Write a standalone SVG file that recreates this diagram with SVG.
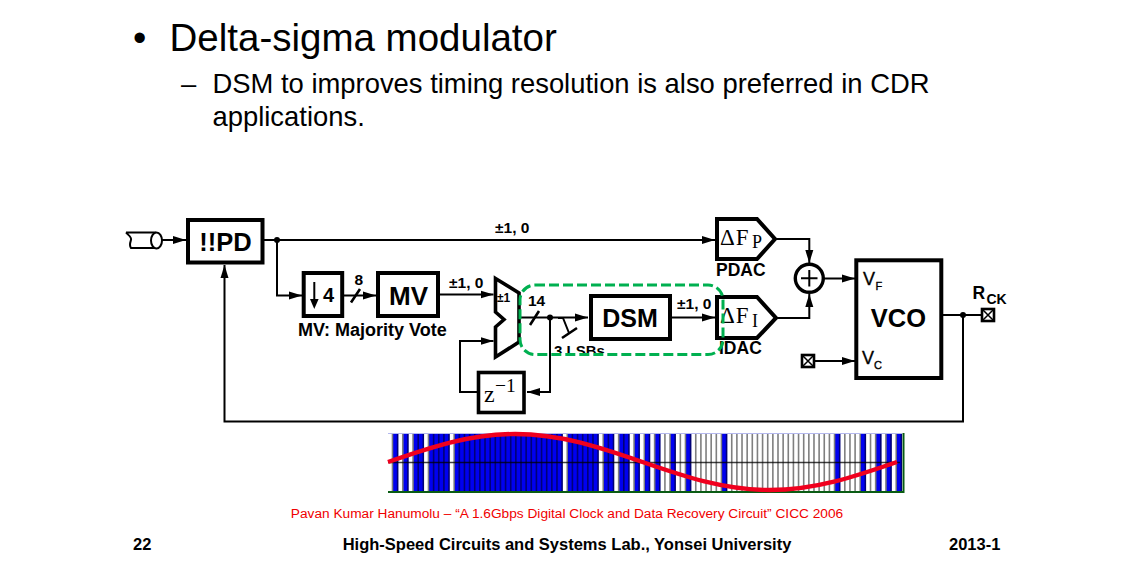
<svg xmlns="http://www.w3.org/2000/svg" width="1130" height="578" viewBox="0 0 1130 578">
<style>
text{font-family:"Liberation Sans",Arial,sans-serif;fill:#000}
.b{font-weight:700}
.serif{font-family:"Liberation Serif","Times New Roman",serif}
.w{fill:none;stroke:#000;stroke-width:2}
.box{fill:#fff;stroke:#000;stroke-width:4}
.lbl{font-weight:700;font-size:15.500px}
.blk{font-weight:700;text-anchor:middle}
.med{stroke:#000;stroke-width:.35}
</style>
<defs>
<marker id="arr" markerUnits="userSpaceOnUse" markerWidth="14" markerHeight="10" refX="13" refY="5" orient="auto"><path d="M0 1 L13 5 L0 9Z" fill="#000"/></marker>
<g id="cross"><rect x="0" y="0" width="12" height="12" fill="#fff" stroke="#000" stroke-width="2.600"/><path d="M1 1L11 11M11 1L1 11" stroke="#000" stroke-width="1.500"/></g>
<clipPath id="lsb-clip"><rect x="550" y="338" width="62" height="15"/></clipPath>
</defs>
<rect width="1130" height="578" fill="#fff"/>
<text x="133" y="51" font-size="38">•</text>
<text x="169.500" y="51" font-size="38.500">Delta-sigma modulator</text>
<text x="181" y="93" font-size="27.400">–</text>
<text x="212.500" y="93" font-size="27.400">DSM to improves timing resolution is also preferred in CDR</text>
<text x="212.500" y="126" font-size="27.400">applications.</text>

<g id="connectors">
<path class="w" d="M161 240H186" marker-end="url(#arr)"/>
<path class="w" d="M264 240H715" marker-end="url(#arr)"/>
<path class="w" d="M277 240V295.500H302" marker-end="url(#arr)"/>
<path class="w" d="M343 295.500H376" marker-end="url(#arr)"/>
<path class="w" d="M439 294.500H493.500" marker-end="url(#arr)"/>
<path class="w" d="M518 317.500H588" marker-end="url(#arr)"/>
<path class="w" d="M550 317.500V392H527" marker-end="url(#arr)"/>
<path class="w" d="M477 392H460V341H493.500" marker-end="url(#arr)"/>
<path class="w" d="M558 318H563L569 333"/>
<path class="w" d="M671 317.500H715" marker-end="url(#arr)"/>
<path class="w" d="M775 239H809.300V263" marker-end="url(#arr)"/>
<path class="w" d="M776 318H809.300V294" marker-end="url(#arr)"/>
<path class="w" d="M824 278.500H855" marker-end="url(#arr)"/>
<path class="w" d="M815 361H855" marker-end="url(#arr)"/>
<path class="w" d="M942 315H982"/>
<path class="w" d="M963 315V421.500H224.500V265" marker-end="url(#arr)"/>
<circle cx="277" cy="240" r="3"/><circle cx="550" cy="317.500" r="3"/><circle cx="963" cy="315" r="3"/>
<path d="M351 302.500L360 289M530 325L539 311M562 338L577 328" stroke="#000" stroke-width="2.600" fill="none"/>
</g>

<g id="source"><path class="w" d="M126 232.500H156M126 232.500C128 235 132 237 131 240C130 243 129 245 131 248H156"/><ellipse cx="156.500" cy="240.500" rx="5.500" ry="8" fill="#fff" stroke="#000" stroke-width="2"/></g>
<g id="pd"><rect class="box" x="188" y="220" width="74.500" height="42.500"/><text class="blk" x="225.500" y="250.500" font-size="25.500">!!PD</text></g>
<g id="div4"><rect class="box" x="303.700" y="273" width="38.500" height="43"/><path class="w" d="M314.300 282V303"/><path d="M310 299L314.300 309L318.600 299Z"/><text x="323" y="302" class="b" font-size="20">4</text></g>
<g id="mv"><rect class="box" x="378" y="273" width="60" height="43"/><text class="blk" x="408.500" y="305" font-size="26">MV</text></g>
<g id="mux"><path d="M495.500 278.500L519 293V342L495.500 357V327L504 319.500L495.500 312Z" fill="#fff" stroke="#000" stroke-width="3.600"/><text x="497" y="302" class="b" font-size="12">±1</text></g>
<g id="dsm"><rect class="box" x="591" y="296" width="79" height="43"/><text class="blk" x="630" y="327" font-size="25">DSM</text></g>
<g id="delay"><rect class="box" x="478.500" y="372.500" width="45.500" height="40" style="stroke-width:3.600"/><text x="484" y="402" class="serif" font-size="24">z</text><text x="495" y="392" class="serif" font-size="19.500">−1</text></g>
<g id="pdac"><path class="box" d="M717 219H757L775 239L757 259H717Z"/><text x="720" y="244.500" class="serif" font-size="23" letter-spacing="1">ΔF</text><text x="752" y="248" class="serif" font-size="18">P</text></g>
<g id="idac"><path class="box" d="M717 297H757L776 318L757 338H717Z"/><text x="720" y="323" class="serif" font-size="23" letter-spacing="1">ΔF</text><text x="752" y="327" class="serif" font-size="18">I</text></g>
<g id="sum"><circle cx="809.300" cy="278.300" r="14" fill="#fff" stroke="#000" stroke-width="3.400"/><path d="M801 278.300H817.500M809.300 270V286.500" stroke="#000" stroke-width="2"/></g>
<g id="vco"><rect class="box" x="856.300" y="260.300" width="85" height="117.700"/><text x="898.500" y="327" class="blk" font-size="25.500">VCO</text><text x="863" y="285" font-size="18" class="med">V</text><text x="875.500" y="290" font-size="11" class="med">F</text><text x="862" y="364" font-size="18" class="med">V</text><text x="874" y="368.500" font-size="11" class="med">C</text></g>
<use id="vc-pin" href="#cross" x="802" y="355"/>
<use id="rck-pin" href="#cross" x="982" y="309"/>

<g id="labels">
<text x="495" y="233" class="lbl">±1, 0</text>
<text x="449" y="288" class="lbl">±1, 0</text>
<text x="677" y="309" class="lbl">±1, 0</text>
<text x="354.500" y="285" class="lbl">8</text>
<text x="528" y="306" class="lbl">14</text>
<text x="298" y="336" font-size="18" class="b">MV: Majority Vote</text>
<text x="554" y="356" class="b" font-size="15" clip-path="url(#lsb-clip)">3 LSBs</text>
<text x="716" y="276" font-size="17.500" class="b">PDAC</text>
<text x="719" y="353.500" font-size="17.500" class="b">IDAC</text>
<text x="972.500" y="299" font-size="17.500" class="b">R</text><text x="986.500" y="303.500" font-size="14" class="b">CK</text>
</g>
<rect id="dsm-region" x="520" y="285" width="203" height="69.500" rx="15" fill="none" stroke="#00b050" stroke-width="3" stroke-dasharray="10 4"/>

<g id="bitstream">
<rect x="388" y="433" width="514" height="58" fill="#fff"/>
<!-- high bits of the stream, one run per subpath -->
<path fill="none" stroke="#0000f0" stroke-width="58" d="M393.140 462H398.280M403.420 462H408.560M413.700 462H423.980M429.120 462H449.680M454.820 462H562.760M567.900 462H598.740M603.880 462H614.160M619.300 462H629.580M634.720 462H639.860M645 462H650.140M655.280 462H660.420M670.700 462H675.840M686.120 462H691.260M722.100 462H727.240M835.180 462H840.320M860.880 462H866.020M876.300 462H881.440M886.580 462H891.720M896.860 462H902"/>
<path fill="none" stroke="#000" stroke-opacity=".5" stroke-width="58" stroke-dasharray="1.600 3.540" d="M391.700 462H902"/>
<path fill="none" stroke="#b4b8ee" stroke-width="1" d="M388 433.500H902"/>
<path fill="none" stroke="#0a5c14" stroke-width="2" d="M388 492H903.500V433"/>
<path fill="none" stroke="#000" stroke-opacity=".75" stroke-width="1.300" d="M388 462.500H900"/>
<path fill="none" stroke="#f0001e" stroke-width="4.400" d="M388 462C429.500 447.660 469.200 434 515.250 434C561.300 434 601 447.660 642.500 462C684 476.340 723.700 490 769.750 490C815.800 490 855.500 476.340 897 462"/>
</g>
<text x="567" y="518" font-size="13.700" text-anchor="middle" style="fill:#f00000">Pavan Kumar Hanumolu – “A 1.6Gbps Digital Clock and Data Recovery Circuit” CICC 2006</text>
<text x="133" y="550" font-size="16.500" class="b">22</text>
<text x="567" y="550" font-size="16.500" class="b" text-anchor="middle">High-Speed Circuits and Systems Lab., Yonsei University</text>
<text x="949" y="550" font-size="16.500" class="b">2013-1</text>
</svg>
